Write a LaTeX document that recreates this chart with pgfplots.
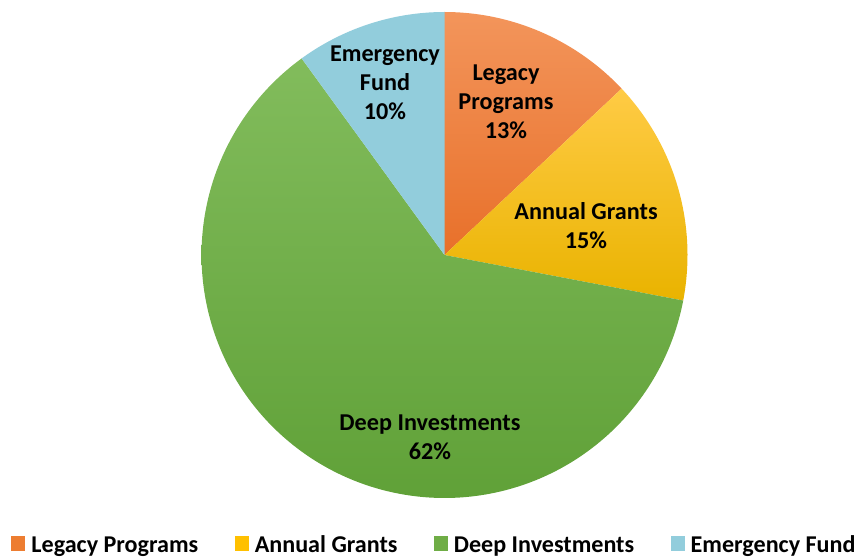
\documentclass[border=0pt]{standalone}
\usepackage{pgfplots}
\pgfplotsset{compat=1.18}
\usepackage{fontspec}
\setmainfont{Carlito}
\definecolor{orTop}{HTML}{F3955B}
\definecolor{orBot}{HTML}{E8702A}
\definecolor{orMid}{HTML}{ED7D31}
\definecolor{goTop}{HTML}{FFCB45}
\definecolor{goBot}{HTML}{E9B300}
\definecolor{goMid}{HTML}{FFC000}
\definecolor{grTop}{HTML}{82BC5C}
\definecolor{grBot}{HTML}{60A138}
\definecolor{grMid}{HTML}{6FAD46}
\definecolor{blMid}{HTML}{92CDDC}
\tikzset{lbl/.style={font=\fontsize{24.2}{29}\selectfont\bfseries, align=center, text=black}}
\begin{document}
\begin{tikzpicture}
\pgfmathsetmacro{\cx}{444.5}
\pgfmathsetmacro{\cy}{304}
\pgfmathsetmacro{\pieR}{243}
% shares in percent
\def\pA{13}\def\pB{15}\def\pC{62}\def\pD{10}
\pgfmathsetmacro{\aA}{90}
\pgfmathsetmacro{\aB}{\aA-3.6*\pA}
\pgfmathsetmacro{\aC}{\aB-3.6*\pB}
\pgfmathsetmacro{\aD}{\aC-3.6*\pC}
\pgfmathsetmacro{\aE}{\aD-3.6*\pD}
\begin{axis}[
  scale only axis, width=861pt, height=559pt,
  xmin=0, xmax=861, ymin=0, ymax=559,
  hide axis, clip=false,
  legend columns=4,
  legend image code/.code={\fill[#1] (0pt,-6pt) rectangle (14pt,9pt);},
  legend style={at={(axis cs:435,14)}, anchor=center, draw=none, fill=none,
    font=\fontsize{24.1}{28}\selectfont\bfseries,
    /tikz/every even column/.append style={column sep=33.5pt},
    /tikz/every odd column/.append style={column sep=3pt},
    inner sep=0pt, nodes={inner sep=3pt}}
]
\path (axis cs:0,0) rectangle (axis cs:861,559);
\addlegendimage{fill=orMid, draw=none}
\addlegendimage{fill=goMid, draw=none}
\addlegendimage{fill=grMid, draw=none}
\addlegendimage{fill=blMid, draw=none}
\addplot[forget plot, draw=none, top color=orTop, bottom color=orBot, domain=\aB:\aA, samples=80, variable=\t]
  ({\cx+\pieR*cos(\t)},{\cy+\pieR*sin(\t)}) -- (axis cs:\cx,\cy) -- cycle;
\addplot[forget plot, draw=none, top color=goTop, bottom color=goBot, domain=\aC:\aB, samples=80, variable=\t]
  ({\cx+\pieR*cos(\t)},{\cy+\pieR*sin(\t)}) -- (axis cs:\cx,\cy) -- cycle;
\addplot[forget plot, draw=none, top color=grTop, bottom color=grBot, domain=\aD:\aC, samples=200, variable=\t]
  ({\cx+\pieR*cos(\t)},{\cy+\pieR*sin(\t)}) -- (axis cs:\cx,\cy) -- cycle;
\addplot[forget plot, draw=none, fill=blMid, domain=\aE:\aD, samples=60, variable=\t]
  ({\cx+\pieR*cos(\t)},{\cy+\pieR*sin(\t)}) -- (axis cs:\cx,\cy) -- cycle;
\node[lbl] at (axis cs:506,457) {Legacy\\Programs\\13\%};
\node[lbl] at (axis cs:586,333) {Annual Grants\\15\%};
\node[lbl] at (axis cs:430,122) {Deep Investments\\62\%};
\node[lbl] at (axis cs:385,476) {Emergency\\Fund\\10\%};
\legend{Legacy Programs, Annual Grants, Deep Investments, Emergency Fund}
\end{axis}
\end{tikzpicture}
\end{document}
